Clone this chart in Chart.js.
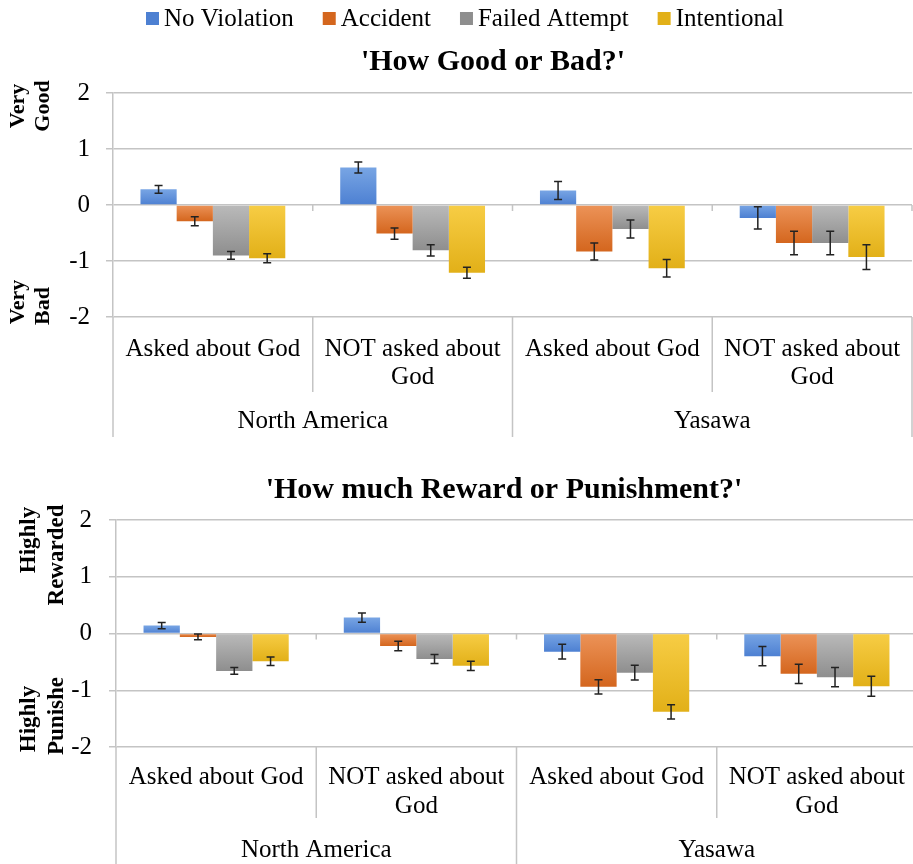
<!DOCTYPE html>
<html>
<head>
<meta charset="utf-8">
<title>How Good or Bad / Reward or Punishment</title>
<script src="https://cdn.jsdelivr.net/npm/chart.js@4.4.0/dist/chart.umd.min.js"></script>
<style>
  body { margin: 0; background: #fff; overflow: hidden; width: 913px; height: 864px; position: relative; }
  canvas { position: absolute; left: 0; }
  #goodBadChart { top: 0; }
  #rewardChart { top: 440px; }
</style>
</head>
<body>
<canvas id="goodBadChart" width="913" height="440"></canvas>
<canvas id="rewardChart" width="918" height="424"></canvas>
<script>
// data
const seriesNames = ['No Violation', 'Accident', 'Failed Attempt', 'Intentional'];
const conditions = [['Asked about God'], ['NOT asked about', 'God'], ['Asked about God'], ['NOT asked about', 'God']];
const sites = ['North America', 'Yasawa'];
const yTicks = [-2, -1, 0, 1, 2];

// 'How Good or Bad?'
const goodNoViolation = [0.28, 0.67, 0.26, -0.23];
const goodAccident    = [-0.29, -0.51, -0.83, -0.68];
const goodFailed      = [-0.90, -0.81, -0.43, -0.68];
const goodIntentional = [-0.95, -1.21, -1.13, -0.93];
const goodNoViolationErr = [0.07, 0.10, 0.16, 0.20];
const goodAccidentErr    = [0.08, 0.10, 0.15, 0.21];
const goodFailedErr      = [0.07, 0.10, 0.16, 0.21];
const goodIntentionalErr = [0.08, 0.10, 0.155, 0.22];

// 'How much Reward or Punishment?'
const rewardNoViolation = [0.14, 0.28, -0.32, -0.40];
const rewardAccident    = [-0.06, -0.22, -0.94, -0.71];
const rewardFailed      = [-0.66, -0.45, -0.69, -0.77];
const rewardIntentional = [-0.49, -0.57, -1.38, -0.93];
const rewardNoViolationErr = [0.055, 0.08, 0.13, 0.17];
const rewardAccidentErr    = [0.05, 0.085, 0.125, 0.17];
const rewardFailedErr      = [0.06, 0.08, 0.13, 0.17];
const rewardIntentionalErr = [0.075, 0.08, 0.125, 0.175];

const FONT = '"Liberation Serif", "Times New Roman", serif';
const GRID = '#c4c4c4';
// light (top of bar) -> dark (bottom of bar)
const colors = [
  ['#78a5e4', '#4d80d2'],
  ['#ec9358', '#d4661e'],
  ['#bababa', '#8e8e8e'],
  ['#f7cd45', '#e2b018']
];

function barFill(pair) {
  return function(ctx) {
    const chart = ctx.chart;
    if (ctx.type !== 'data' || !chart.chartArea || !chart.scales.y) return pair[1];
    const y = chart.scales.y;
    const v = ctx.raw;
    const top = y.getPixelForValue(Math.max(v, 0));
    const bot = y.getPixelForValue(Math.min(v, 0));
    if (!isFinite(top) || !isFinite(bot) || top === bot) return pair[1];
    const g = chart.ctx.createLinearGradient(0, top, 0, bot);
    g.addColorStop(0, pair[0]);
    g.addColorStop(1, pair[1]);
    return g;
  };
}

function makeDatasets(values, errors) {
  return values.map((vals, i) => ({
    label: seriesNames[i],
    data: vals,
    errors: errors[i],
    backgroundColor: barFill(colors[i]),
    borderWidth: 0,
    categoryPercentage: 0.725,
    barPercentage: 1
  }));
}

// error bars drawn on top of the bars
const errorBars = {
  id: 'errorBars',
  afterDatasetsDraw(chart) {
    const ctx = chart.ctx;
    const y = chart.scales.y;
    ctx.save();
    ctx.strokeStyle = '#222';
    ctx.lineWidth = 1.5;
    chart.data.datasets.forEach((ds, di) => {
      chart.getDatasetMeta(di).data.forEach((bar, i) => {
        const hi = y.getPixelForValue(ds.data[i] + ds.errors[i]);
        const lo = y.getPixelForValue(ds.data[i] - ds.errors[i]);
        ctx.beginPath();
        ctx.moveTo(bar.x, hi); ctx.lineTo(bar.x, lo);
        ctx.moveTo(bar.x - 4, hi); ctx.lineTo(bar.x + 4, hi);
        ctx.moveTo(bar.x - 4, lo); ctx.lineTo(bar.x + 4, lo);
        ctx.stroke();
      });
    });
    ctx.restore();
  }
};

// two-level category axis, titles, rotated y labels, legend
const decor = {
  id: 'decor',
  afterDraw(chart, args, opts) {
    const ctx = chart.ctx;
    const area = chart.chartArea;
    const x = chart.scales.x;
    const y = chart.scales.y;
    const n = conditions.length;
    const w = (x.right - x.left) / n;
    const yB = area.bottom;
    const y0 = y.getPixelForValue(0);
    ctx.save();
    ctx.strokeStyle = GRID;
    ctx.lineWidth = 1.5;
    for (let i = 0; i <= n; i++) {
      const bx = x.left + i * w;
      ctx.beginPath();
      ctx.moveTo(bx, yB);
      ctx.lineTo(bx, yB + (i % 2 === 0 ? opts.outerLen : opts.innerLen));
      if (i > 0) { ctx.moveTo(bx, y0); ctx.lineTo(bx, y0 + 6); }
      ctx.stroke();
    }
    ctx.fillStyle = '#000';
    ctx.textAlign = 'center';
    ctx.textBaseline = 'middle';
    ctx.font = '25px ' + FONT;
    conditions.forEach((lines, i) => {
      const cx = x.left + (i + 0.5) * w;
      lines.forEach((t, j) => ctx.fillText(t, cx, yB + opts.line1 + j * opts.lineGap));
    });
    sites.forEach((s, k) => {
      ctx.fillText(s, x.left + (k * 2 + 1) * w, yB + opts.groupY);
    });

    // chart title
    ctx.font = 'bold 30px ' + FONT;
    ctx.fillText(opts.title, opts.titleX, opts.titleY);

    // rotated y labels
    ctx.font = 'bold ' + opts.yFont + 'px ' + FONT;
    opts.yLabels.forEach(l => {
      ctx.save();
      ctx.translate(l.x, l.y);
      ctx.rotate(-Math.PI / 2);
      ctx.fillText(l.text, 0, 0);
      ctx.restore();
    });

    // legend
    if (opts.legend) {
      ctx.font = '25px ' + FONT;
      ctx.textAlign = 'left';
      let lx = 146;
      seriesNames.forEach((name, i) => {
        ctx.fillStyle = colors[i][1];
        ctx.fillRect(lx, 12, 13, 13);
        ctx.fillStyle = '#000';
        ctx.fillText(name, lx + 18, 19);
        lx += 18 + ctx.measureText(name).width + 29;
      });
    }
    ctx.restore();
  }
};

function makeChart(id, values, errors, pad, yWidth, tickPad, decorOpts) {
  return new Chart(document.getElementById(id), {
    type: 'bar',
    data: {
      labels: conditions.map(c => c.join(' ')),
      datasets: makeDatasets(values, errors)
    },
    options: {
      responsive: false,
      animation: false,
      layout: { padding: pad },
      plugins: {
        legend: { display: false },
        title: { display: false },
        tooltip: { enabled: false },
        decor: decorOpts
      },
      scales: {
        x: { display: false },
        y: {
          min: yTicks[0],
          max: yTicks[yTicks.length - 1],
          afterFit: s => { s.width = yWidth; },
          afterBuildTicks: s => { s.ticks = yTicks.map(v => ({ value: v })); },
          ticks: { color: '#000', padding: tickPad, font: { family: FONT, size: 25 } },
          grid: { color: GRID, lineWidth: 1.5, tickLength: 7 },
          border: { display: true, color: GRID, width: 1.5 }
        }
      }
    },
    plugins: [errorBars, decor]
  });
}

makeChart('goodBadChart',
  [goodNoViolation, goodAccident, goodFailed, goodIntentional],
  [goodNoViolationErr, goodAccidentErr, goodFailedErr, goodIntentionalErr],
  { top: 93, bottom: 123, left: 0, right: 1 }, 113, 16,
  {
    title: "'How Good or Bad?'", titleX: 493, titleY: 62,
    line1: 32, lineGap: 28, groupY: 104, innerLen: 75, outerLen: 120,
    legend: true, yFont: 22,
    yLabels: [
      { text: 'Very', x: 18, y: 106 }, { text: 'Good', x: 43, y: 106 },
      { text: 'Very', x: 18, y: 302 }, { text: 'Bad', x: 43, y: 306 }
    ]
  });

makeChart('rewardChart',
  [rewardNoViolation, rewardAccident, rewardFailed, rewardIntentional],
  [rewardNoViolationErr, rewardAccidentErr, rewardFailedErr, rewardIntentionalErr],
  { top: 80, bottom: 117, left: 0, right: 1 }, 116, 17,
  {
    title: "'How much Reward or Punishment?'", titleX: 504, titleY: 50,
    line1: 30, lineGap: 29, groupY: 103, innerLen: 71, outerLen: 130,
    legend: false, yFont: 23,
    yLabels: [
      { text: 'Highly', x: 29, y: 100 }, { text: 'Rewarded', x: 57, y: 115 },
      { text: 'Highly', x: 29, y: 279 }, { text: 'Punishe', x: 57, y: 276 }
    ]
  });
</script>
</body>
</html>
